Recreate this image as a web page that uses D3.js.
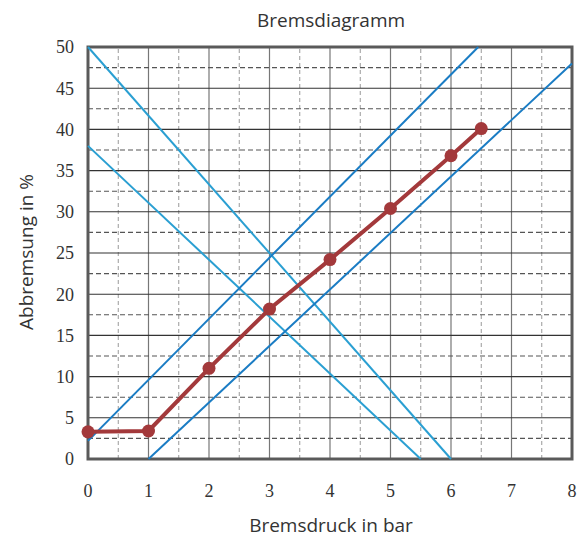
<!DOCTYPE html>
<html>
<head>
<meta charset="utf-8">
<script src="https://cdn.jsdelivr.net/npm/d3@7"></script>
<style>
  body { margin: 0; background: #fff; }
  svg { display: block; }
</style>
</head>
<body>
<svg id="chart"></svg>
<script>
// Messwerte (rot)
const pressure = [0, 1, 2, 3, 4, 5, 6, 6.5];
const braking = [3.3, 3.4, 11, 18.2, 24.2, 30.4, 36.8, 40.1];

// Grenzlinien (blau): [x1, y1, x2, y2]
const fallingLines = [[0, 50, 6, 0], [0, 38, 5.5, 0]];
const risingLines = [[0, 2.2, 6.45, 50], [1, 0, 8, 48]];

const xTicks = [0, 1, 2, 3, 4, 5, 6, 7, 8];
const yTicks = [0, 5, 10, 15, 20, 25, 30, 35, 40, 45, 50];

const width = 580, height = 540;
const margin = { top: 47, right: 8, bottom: 81, left: 88 };

const svg = d3.select("#chart").attr("width", width).attr("height", height);

const x = d3.scaleLinear().domain([0, 8]).range([margin.left, width - margin.right]);
const y = d3.scaleLinear().domain([0, 50]).range([height - margin.bottom, margin.top]);

// grid
const grid = svg.append("g");
d3.range(0.5, 8, 0.5).forEach((v) => {
  const whole = v % 1 === 0;
  grid.append("line")
    .attr("x1", x(v)).attr("x2", x(v))
    .attr("y1", y(0)).attr("y2", y(50))
    .attr("stroke", whole ? "#777" : "#999")
    .attr("stroke-width", whole ? 1.2 : 1)
    .attr("stroke-dasharray", whole ? null : "4,3");
});
d3.range(2.5, 50, 2.5).forEach((v) => {
  const whole = v % 5 === 0;
  grid.append("line")
    .attr("x1", x(0)).attr("x2", x(8))
    .attr("y1", y(v)).attr("y2", y(v))
    .attr("stroke", whole ? "#333" : "#555")
    .attr("stroke-width", 1.1)
    .attr("stroke-dasharray", whole ? null : "5,3");
});

// frame
svg.append("rect")
  .attr("x", x(0)).attr("y", y(50))
  .attr("width", x(8) - x(0)).attr("height", y(0) - y(50))
  .attr("fill", "none")
  .attr("stroke", "#5a5a5a")
  .attr("stroke-width", 3);

// blue lines
svg.selectAll(".falling")
  .data(fallingLines)
  .join("line")
  .attr("class", "falling")
  .attr("x1", (d) => x(d[0])).attr("y1", (d) => y(d[1]))
  .attr("x2", (d) => x(d[2])).attr("y2", (d) => y(d[3]))
  .attr("stroke", "#2a9fd2")
  .attr("stroke-width", 2);

svg.selectAll(".rising")
  .data(risingLines)
  .join("line")
  .attr("class", "rising")
  .attr("x1", (d) => x(d[0])).attr("y1", (d) => y(d[1]))
  .attr("x2", (d) => x(d[2])).attr("y2", (d) => y(d[3]))
  .attr("stroke", "#1a7cc4")
  .attr("stroke-width", 2);

// red series
const points = pressure.map((p, i) => ({ p, b: braking[i] }));
svg.append("path")
  .datum(points)
  .attr("fill", "none")
  .attr("stroke", "#a3393b")
  .attr("stroke-width", 4)
  .attr("d", d3.line().x((d) => x(d.p)).y((d) => y(d.b)));

svg.selectAll(".dot")
  .data(points)
  .join("circle")
  .attr("class", "dot")
  .attr("cx", (d) => x(d.p))
  .attr("cy", (d) => y(d.b))
  .attr("r", 6.5)
  .attr("fill", "#a3393b");

// tick labels
svg.selectAll(".ytick")
  .data(yTicks)
  .join("text")
  .attr("class", "ytick")
  .attr("x", 74)
  .attr("y", (d) => y(d))
  .attr("dy", "0.35em")
  .attr("text-anchor", "end")
  .attr("font-family", "Liberation Serif, serif")
  .attr("font-size", 18)
  .attr("fill", "#333")
  .text((d) => d);

svg.selectAll(".xtick")
  .data(xTicks)
  .join("text")
  .attr("class", "xtick")
  .attr("x", (d) => x(d))
  .attr("y", 497)
  .attr("text-anchor", "middle")
  .attr("font-family", "Liberation Serif, serif")
  .attr("font-size", 18)
  .attr("fill", "#333")
  .text((d) => d);

// titles
svg.append("text")
  .attr("x", 331).attr("y", 27)
  .attr("text-anchor", "middle")
  .attr("font-family", "Open Sans, sans-serif")
  .attr("font-size", 19)
  .attr("fill", "#333")
  .text("Bremsdiagramm");

svg.append("text")
  .attr("x", 331).attr("y", 532)
  .attr("text-anchor", "middle")
  .attr("font-family", "Open Sans, sans-serif")
  .attr("font-size", 19)
  .attr("fill", "#333")
  .text("Bremsdruck in bar");

svg.append("text")
  .attr("transform", "translate(33, 252) rotate(-90)")
  .attr("text-anchor", "middle")
  .attr("font-family", "Open Sans, sans-serif")
  .attr("font-size", 19)
  .attr("fill", "#333")
  .text("Abbremsung in %");
</script>
</body>
</html>
